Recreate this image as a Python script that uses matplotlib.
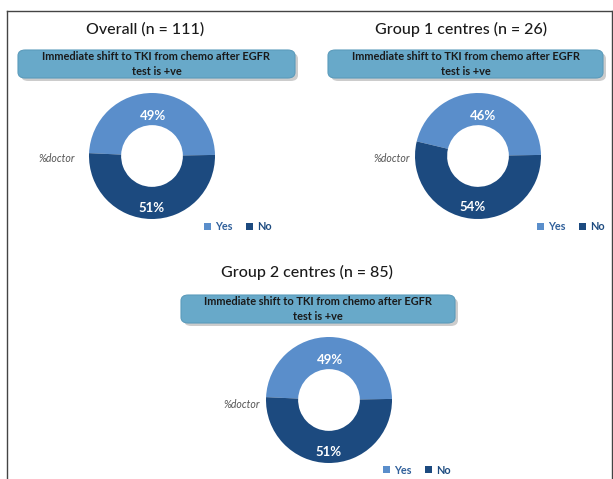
import numpy as np
import matplotlib as mpl
mpl.use('Agg')
import matplotlib.pyplot as plt
from matplotlib.patches import FancyBboxPatch
from matplotlib.lines import Line2D

# data
panel_titles = ['Overall (n = 111)', 'Group 1 centres (n = 26)', 'Group 2 centres (n = 85)']
yes_pct = [49, 46, 49]
no_pct = [51, 54, 51]
answer_labels = ['Yes', 'No']
question = 'Immediate shift to TKI from chemo after EGFR\ntest is +ve'
series_name = '%doctor'

W, H = 613, 479
fig = plt.figure(figsize=(W/100, H/100), dpi=100)
fig.patch.set_facecolor('white')
plt.rcParams['font.family'] = ['Lato', 'DejaVu Sans']

def fx(x): return x / W
def fy(y): return 1 - y / H

col_yes = '#5a8ecb'
col_no = '#1c4a7f'

# frame lines (pixel coords)
fig.add_artist(Line2D([fx(7), fx(7)], [0, fy(11)], color='#444444', lw=1))
fig.add_artist(Line2D([fx(7), 1], [fy(11), fy(11)], color='#444444', lw=1))
fig.add_artist(Line2D([fx(611.5), fx(611.5)], [0, fy(11)], color='#444444', lw=1))

# layout per panel: title centre, banner box, donut centre, %doctor pos, legend pos
layout = [
    dict(title=(145, 29), box=(18, 50, 295, 78), donut=(152, 156), doc=(57, 159), leg=(238, 227)),
    dict(title=(461, 29), box=(328, 50, 603, 78), donut=(478, 156), doc=(392, 158), leg=(571, 227)),
    dict(title=(307, 272), box=(181, 295, 455, 323), donut=(329, 400), doc=(242, 405), leg=(417, 470)),
]
R = 63

for i, lay in enumerate(layout):
    tx, ty = lay['title']
    fig.text(fx(tx), fy(ty), panel_titles[i], ha='center', va='center',
             fontsize=11.5, color='#1a1a1a', fontweight='medium')

    x0, y0, x1, y1 = lay['box']
    # shadow
    sh = FancyBboxPatch((fx(x0 + 3), fy(y1 + 3)), fx(x1 - x0), (y1 - y0) / H,
                        boxstyle='round,pad=0,rounding_size=0.012',
                        transform=fig.transFigure, facecolor='#9a9a9a',
                        edgecolor='none', alpha=0.5)
    fig.add_artist(sh)
    bx = FancyBboxPatch((fx(x0), fy(y1)), fx(x1 - x0), (y1 - y0) / H,
                        boxstyle='round,pad=0,rounding_size=0.012',
                        transform=fig.transFigure, facecolor='#68a9c9',
                        edgecolor='#5b9bbb', lw=0.8)
    fig.add_artist(bx)
    fig.text(fx((x0 + x1) / 2), fy((y0 + y1) / 2), question, ha='center', va='center',
             fontsize=7.9, fontweight='bold', color='#1a1a1a', linespacing=1.35)

    cx, cy = lay['donut']
    ax = fig.add_axes([fx(cx - R), fy(cy + R), 2 * R / W, 2 * R / H])
    vals = [yes_pct[i], no_pct[i]]
    wedges, _ = ax.pie(vals, colors=[col_yes, col_no], startangle=1 + 3.6 * yes_pct[i],
                       counterclock=False, radius=1,
                       wedgeprops=dict(width=0.51, edgecolor='none'))
    for w, v in zip(wedges, vals):
        mid = np.deg2rad((w.theta1 + w.theta2) / 2)
        ax.text(0.73 * np.cos(mid), 0.73 * np.sin(mid) - 0.09, f'{v}%',
                ha='center', va='center', color='white', fontweight='bold', fontsize=9.5)
    ax.set_xlim(-1, 1)
    ax.set_ylim(-1, 1)
    ax.set_aspect('equal')
    ax.axis('off')

    dx, dy = lay['doc']
    fig.text(fx(dx), fy(dy), series_name, ha='center', va='center', fontsize=7.6,
             style='italic', color='#555555')

    lx, ly = lay['leg']
    leg = fig.legend(wedges, answer_labels, loc='center', bbox_to_anchor=(fx(lx), fy(ly)),
                     ncol=2, frameon=False, fontsize=7.8, handlelength=0.6, handleheight=0.6,
                     handletextpad=0.4, columnspacing=1.3, borderpad=0)
    for t, c in zip(leg.get_texts(), ['#2f5f9a', col_no]):
        t.set_color(c)
        t.set_fontweight('bold')

fig.savefig('out.png', dpi=100)
